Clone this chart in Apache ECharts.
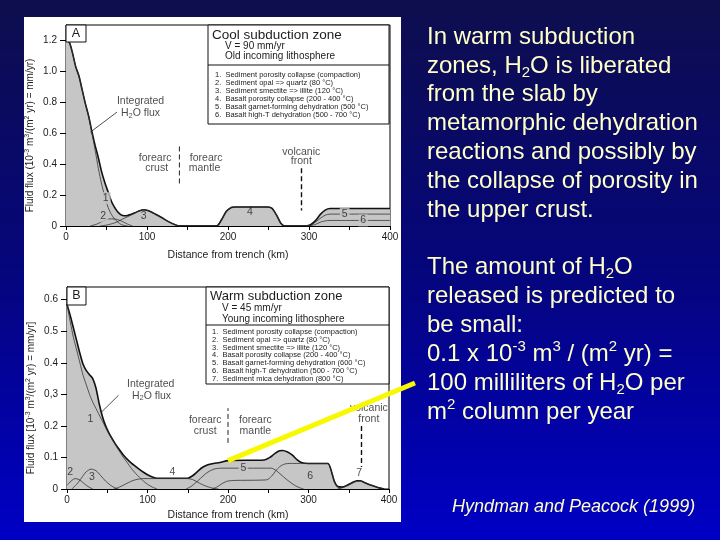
<!DOCTYPE html>
<html><head><meta charset="utf-8">
<script src="https://cdn.jsdelivr.net/npm/echarts@6/dist/echarts.min.js"></script>
<style>html,body{margin:0;padding:0;width:720px;height:540px;overflow:hidden;background:#06066e}#c{width:720px;height:540px}</style>
</head><body><div id="c"></div><script>
// ---------------- DATA ----------------
const xTickLabels = ['0', '100', '200', '300', '400'];
const aYTickLabels = ['0', '0.2', '0.4', '0.6', '0.8', '1.0', '1.2'];
const bYTickLabels = ['0', '0.1', '0.2', '0,3', '0.4', '0.5', '0.6'];

// Panel A: cool subduction zone (km, fluid flux)
const aIntegrated = [[0,1.2],[4,1.19],[8,1.12],[12,1.03],[16,0.97],[20,0.88],[24,0.79],[28,0.71],[32,0.61],[36,0.52],[40,0.44],[44,0.35],[48,0.28],[52,0.22],[56,0.16],[60,0.12],[64,0.09],[68,0.072],[72,0.066],[76,0.068],[80,0.075],[85,0.085],[90,0.097],[96,0.105],[102,0.098],[110,0.078],[118,0.055],[126,0.03],[134,0.01],[140,0],[186,0],[192,0.04],[198,0.095],[204,0.12],[208,0.123],[248,0.123],[254,0.115],[260,0.07],[265,0.02],[270,0],[296,0],[302,0.008],[308,0.035],[314,0.075],[320,0.103],[326,0.113],[400,0.113]];
const aCurve1 = [[0,1.2],[4,1.19],[8,1.12],[12,1.03],[16,0.97],[20,0.88],[24,0.79],[28,0.71],[32,0.6],[36,0.49],[40,0.37],[44,0.27],[48,0.19],[52,0.12],[56,0.075],[60,0.045],[64,0.025],[68,0.01],[72,0.003],[76,0]];
const aCurve2 = [[30,0],[38,0.012],[46,0.032],[54,0.046],[62,0.044],[70,0.028],[76,0.012],[82,0]];
const aCurve3 = [[42,0],[50,0.006],[60,0.02],[70,0.045],[80,0.07],[90,0.097],[96,0.105],[102,0.098],[110,0.078],[118,0.055],[126,0.03],[134,0.01],[140,0]];
const aCurve4 = [[186,0],[192,0.04],[198,0.095],[204,0.12],[208,0.123],[248,0.123],[254,0.115],[260,0.07],[265,0.02],[270,0]];
const aCurve5 = [[296,0],[302,0.005],[308,0.025],[314,0.05],[320,0.07],[326,0.077],[400,0.077]];
const aCurve6 = [[296,0],[302,0.003],[308,0.01],[314,0.025],[320,0.033],[326,0.036],[400,0.036]];

// Panel B: warm subduction zone
const bIntegrated = [[0,0.585],[4,0.55],[8,0.51],[12,0.47],[16,0.43],[20,0.395],[24,0.375],[28,0.362],[32,0.35],[36,0.32],[40,0.27],[44,0.23],[48,0.2],[52,0.178],[56,0.16],[60,0.143],[65,0.125],[70,0.108],[75,0.094],[80,0.082],[85,0.072],[90,0.062],[95,0.053],[100,0.045],[106,0.038],[112,0.034],[150,0.034],[156,0.042],[162,0.055],[168,0.068],[175,0.077],[182,0.081],[190,0.084],[200,0.09],[245,0.092],[252,0.1],[258,0.112],[264,0.121],[268,0.122],[274,0.117],[280,0.107],[286,0.092],[292,0.083],[300,0.081],[324,0.081],[328,0.06],[332,0.025],[336,0.008],[342,0.006],[348,0.012],[354,0.02],[360,0.026],[364,0.026],[370,0.02],[378,0.012],[386,0.005],[394,0]];
const bCurve1 = [[0,0.585],[4,0.53],[8,0.48],[12,0.44],[16,0.4],[20,0.36],[24,0.33],[28,0.3],[32,0.275],[36,0.255],[40,0.235],[44,0.215],[48,0.195],[52,0.175],[56,0.157],[60,0.14],[65,0.12],[70,0.1],[75,0.083],[80,0.065],[85,0.05],[90,0.037],[95,0.025],[100,0.015],[106,0.006],[112,0]];
const bCurve2 = [[0,0.012],[5,0.025],[10,0.033],[15,0.03],[20,0.02],[26,0.008],[32,0]];
const bCurve3 = [[6,0],[12,0.015],[18,0.035],[24,0.055],[30,0.063],[36,0.058],[42,0.042],[48,0.025],[54,0.012],[60,0.003],[64,0]];
const bCurve4 = [[58,0],[64,0.005],[70,0.012],[76,0.02],[82,0.027],[88,0.031],[95,0.033],[150,0.033],[156,0.03],[162,0.022],[168,0.014],[175,0.007],[182,0.002],[188,0]];
const bCurve5 = [[148,0],[154,0.008],[160,0.02],[166,0.034],[172,0.048],[178,0.058],[184,0.064],[192,0.066],[254,0.066],[260,0.058],[266,0.045],[272,0.032],[278,0.02],[284,0.01],[290,0.003],[294,0]];
const bCurve6 = [[180,0],[186,0.006],[192,0.016],[198,0.024],[206,0.027],[248,0.029],[254,0.04],[260,0.06],[266,0.074],[272,0.08],[280,0.081],[324,0.081],[328,0.06],[332,0.025],[336,0.008],[340,0]];
const bCurve7 = [[336,0],[342,0.004],[348,0.01],[354,0.018],[360,0.024],[364,0.025],[370,0.02],[378,0.012],[386,0.005],[394,0]];

// Curve number labels
const aCurveNames = ['1','2','3','4','5','6'];
const bCurveNames = ['1','2','3','4','5','6','7'];

// Texts
const aLegendTitle = ['Cool subduction zone', 'V = 90 mm/yr', 'Old incoming lithosphere'];
const aLegendItems = ['1.  Sediment porosity collapse (compaction)','2.  Sediment opal => quartz (80 °C)','3.  Sediment smectite => illite (120 °C)','4.  Basalt porosity collapse (200 - 400 °C)','5.  Basalt garnet-forming dehydration (500 °C)','6.  Basalt high-T dehydration (500 - 700 °C)'];
const bLegendTitle = ['Warm subduction zone', 'V = 45 mm/yr', 'Young incoming lithosphere'];
const bLegendItems = ['1.  Sediment porosity collapse (compaction)','2.  Sediment opal => quartz (80 °C)','3.  Sediment smectite => illite (120 °C)','4.  Basalt porosity collapse (200 - 400 °C)','5.  Basalt garnet-forming dehydration (600 °C)','6.  Basalt high-T dehydration (500 - 700 °C)','7.  Sediment mica dehydration (800 °C)'];
const noteWords = ['Integrated', 'H{sub|2}O flux', 'forearc', 'crust', 'forearc', 'mantle', 'volcanic', 'front'];
const para1 = ['In warm subduction','zones, H{sub|2}O is liberated','from the slab by','metamorphic dehydration','reactions and possibly by','the collapse of porosity in','the upper crust.'];
const para2 = ['The amount of H{sub|2}O','released is predicted to','be small:','0.1 x 10{sup|-3} m{sup|3} / (m{sup|2} yr) =','100 milliliters of H{sub|2}O per','m{sup|2} column per year'];
const citation = 'Hyndman and Peacock (1999)';

// ---------------- LAYOUT / STYLE ----------------
const FONT = '"Liberation Sans", Arial, Helvetica, sans-serif';
const INK = '#1c1c1c';
const FILL = '#c6c6c6';
const TXT = '#ffffc8';

// annotation anchor positions (data coords)
const aCurveLabelPos = [[49,0.18],[46,0.063],[96,0.063],[227,0.089],[344,0.078],[367,0.036]];
const bCurveLabelPos = [[29,0.22],[4,0.055],[31,0.039],[131,0.052],[219,0.066],[302,0.04],[363,0.05]];
const aNotePos = [[92,0.81],[92,0.728],[110,0.436],[112,0.373],[173,0.436],[171,0.373],[290.5,0.478],[290.5,0.42]];
const bNotePos = [[104,0.332],[105,0.294],[171.7,0.218],[171.7,0.184],[234,0.218],[234,0.184],[375,0.256],[375,0.222]];
const aDivider = [[140,0.275],[140,0.52]];
const bDivider = [[200,0.146],[200,0.256]];
const aArrow = [[290.5,0.373],[290.5,0.10]];
const bArrow = [[366,0.2],[366,0.07]];
const aLeader = [[63,0.737],[30,0.607]];
const bLeader = [[64,0.297],[43,0.244]];

const chart = echarts.init(document.getElementById('c'), null, {renderer: 'canvas'});

function xAx(g, gap) {
  return {type:'value', gridIndex:g, min:0, max:400, interval:50,
    axisLine:{onZero:false, lineStyle:{color:'#000', width:1}},
    axisTick:{show:true, length:4, lineStyle:{color:'#000'}},
    axisLabel:{margin:6, fontSize:10, color:INK, fontFamily:FONT, formatter:v => (v % 100 === 0 ? xTickLabels[v/100] : '')},
    splitLine:{show:false},
    name:'Distance from trench (km)', nameLocation:'middle', nameGap:gap,
    nameTextStyle:{fontSize:10.5, color:INK, fontFamily:FONT}};
}
function yAx(g, max, interval, labels, name) {
  const vals = labels.map((_, i) => +(i * interval).toFixed(3));
  return {type:'value', gridIndex:g, min:0, max:max, interval:interval,
    axisLine:{show:true, lineStyle:{color:'#000', width:1}},
    axisTick:{show:true, length:6, lineStyle:{color:'#000'}, customValues: vals},
    axisLabel:{margin:9, fontSize:10, color:INK, fontFamily:FONT, customValues: vals,
      formatter:v => { const i = Math.round(v / interval); return (Math.abs(v - i*interval) < 1e-6 && i < labels.length) ? labels[i] : ''; }},
    splitLine:{show:false},
    name:name, nameLocation:'middle', nameGap:29,
    nameTextStyle:{fontSize:10, color:INK, fontFamily:FONT, padding:[0,20,0,0],
      rich:{n:{fontSize:10, lineHeight:13, color:INK, fontFamily:FONT}, s:{fontSize:7, lineHeight:9, verticalAlign:'top', color:INK, fontFamily:FONT}}}};
}

function area(g, data) {
  return {type:'line', xAxisIndex:g, yAxisIndex:g, data:data, showSymbol:false, smooth:0.25, silent:true,
    lineStyle:{color:'#111', width:1.6}, areaStyle:{color:FILL, opacity:1}, z:2};
}
function comp(g, data) {
  return {type:'line', xAxisIndex:g, yAxisIndex:g, data:data, showSymbol:false, smooth:0.25, silent:true,
    lineStyle:{color:'#333', width:0.8}, z:3};
}
function plainLine(g, data, dashed, width) {
  return {type:'line', xAxisIndex:g, yAxisIndex:g, data:data, showSymbol:false, silent:true,
    lineStyle:{color:'#222', width:width, type: dashed ? [5,3] : 'solid'}, z:4};
}
function arrow(g, data) {
  return {type:'line', xAxisIndex:g, yAxisIndex:g, data:[], silent:true, z:4,
    markLine:{silent:true, symbol:['none','arrow'], symbolSize:[0,9], label:{show:false},
      lineStyle:{color:'#111', width:1.4, type:[5,3]},
      data:[[{coord:data[0]},{coord:data[1]}]]}};
}
const richSub = {sub:{fontSize:7.5, lineHeight:8, verticalAlign:'bottom', color:INK, fontFamily:FONT}};
function labels(g, names, pos, fs, bgIdx) {
  return {type:'scatter', xAxisIndex:g, yAxisIndex:g, symbolSize:1, silent:true, z:6,
    itemStyle:{color:'rgba(0,0,0,0)'},
    data: names.map((n, i) => {
      const d = {name:n, value:pos[i]};
      if (bgIdx && bgIdx.indexOf(i) >= 0) d.label = {backgroundColor:FILL, padding:[0,2]};
      return d;
    }),
    label:{show:true, position:'inside', formatter:'{b}', fontSize:fs, color:INK, fontFamily:FONT, lineHeight:12, rich:richSub}};
}

const graphics = [];
// background gradient + white panel
graphics.push({type:'rect', z:-100, shape:{x:0,y:0,width:720,height:540},
  style:{fill:new echarts.graphic.LinearGradient(0,0,0,1,[{offset:0,color:'#0e0e4e'},{offset:0.5,color:'#05057c'},{offset:1,color:'#0000c6'}])}});
graphics.push({type:'rect', z:-99, shape:{x:24,y:17,width:377,height:505}, style:{fill:'#ffffff'}});

function legendBox(x, y, w, h, divY, title, items, titleX, subX, ys, itemX, itemY0, itemStep, titleSize) {
  graphics.push({type:'rect', z:50, shape:{x:x, y:y, width:w, height:h}, style:{fill:'#fff', stroke:'#111', lineWidth:1}});
  graphics.push({type:'line', z:51, shape:{x1:x, y1:divY, x2:x+w, y2:divY}, style:{stroke:'#111', lineWidth:1}});
  graphics.push({type:'text', z:52, x:titleX, y:ys[0], style:{text:title[0], fill:INK, fontSize:titleSize, fontFamily:FONT, verticalAlign:'middle', align:'left'}});
  graphics.push({type:'text', z:52, x:subX, y:ys[1], style:{text:title[1], fill:INK, fontSize:10, fontFamily:FONT, verticalAlign:'middle', align:'left'}});
  graphics.push({type:'text', z:52, x:subX, y:ys[2], style:{text:title[2], fill:INK, fontSize:10, fontFamily:FONT, verticalAlign:'middle', align:'left'}});
  items.forEach((t, i) => graphics.push({type:'text', z:52, x:itemX, y:itemY0 + i*itemStep,
    style:{text:t, fill:INK, fontSize:7.5, fontFamily:FONT, verticalAlign:'middle', align:'left'}}));
}
legendBox(208, 25, 181, 99, 65, aLegendTitle, aLegendItems, 212, 225, [35,46.5,56.5], 215, 75, 8, 13.5);
legendBox(206, 287, 183, 97, 325, bLegendTitle, bLegendItems, 210, 222, [296,308,319], 212, 332, 7.8, 13);
// panel letter boxes
graphics.push({type:'rect', z:50, shape:{x:66,y:25,width:20,height:17}, style:{fill:'#fff', stroke:'#111', lineWidth:1}});
graphics.push({type:'text', z:52, x:76, y:34, style:{text:'A', fill:INK, fontSize:12.5, fontFamily:FONT, align:'center', verticalAlign:'middle'}});
graphics.push({type:'rect', z:50, shape:{x:67,y:287,width:19,height:18}, style:{fill:'#fff', stroke:'#111', lineWidth:1}});
graphics.push({type:'text', z:52, x:76.5, y:296, style:{text:'B', fill:INK, fontSize:12.5, fontFamily:FONT, align:'center', verticalAlign:'middle'}});

// right-hand slide text
const slideRich = {
  sub:{fontSize:15, lineHeight:14, verticalAlign:'bottom', fill:TXT, fontFamily:FONT},
  sup:{fontSize:15, lineHeight:18, verticalAlign:'top', fill:TXT, fontFamily:FONT}
};
para1.forEach((t, i) => graphics.push({type:'text', z:60, x:427, y:37 + i*28.9,
  style:{text:t, fill:TXT, fontSize:24, fontFamily:FONT, lineHeight:29, align:'left', verticalAlign:'middle', rich:slideRich}}));
para2.forEach((t, i) => graphics.push({type:'text', z:60, x:427, y:267 + i*29,
  style:{text:t, fill:TXT, fontSize:24, fontFamily:FONT, lineHeight:29, align:'left', verticalAlign:'middle', rich:slideRich}}));
graphics.push({type:'text', z:60, x:452, y:507, style:{text:citation, fill:TXT, font:'italic 18px ' + FONT, align:'left', verticalAlign:'middle'}});

const yNameA = '{n|Fluid flux (10}{s|-3}{n| m}{s|3}{n|/(m}{s|2}{n| yr) = mm/yr)}';
const yNameB = '{n|Fluid flux [10}{s|-3}{n| m}{s|3}{n|/(m}{s|2}{n| yr) = mm/yr]}';

const option = {
  animation:false,
  grid:[
    {left:66, top:25, width:324, height:201, show:true, borderColor:'#000', borderWidth:1, backgroundColor:'transparent'},
    {left:67, top:287, width:322, height:202, show:true, borderColor:'#000', borderWidth:1, backgroundColor:'transparent'}
  ],
  xAxis:[xAx(0, 24), xAx(1, 21)],
  yAxis:[yAx(0, 1.3, 0.2, aYTickLabels, yNameA), yAx(1, 0.64, 0.1, bYTickLabels, yNameB)],
  series:[
    area(0, aIntegrated), comp(0, aCurve1), comp(0, aCurve2), comp(0, aCurve3), comp(0, aCurve4), comp(0, aCurve5), comp(0, aCurve6),
    plainLine(0, aDivider, true, 1), plainLine(0, aLeader, false, 0.8), arrow(0, aArrow),
    labels(0, aCurveNames, aCurveLabelPos, 10.5, [0,1,4,5]), labels(0, noteWords, aNotePos, 10.5),
    area(1, bIntegrated), comp(1, bCurve1), comp(1, bCurve2), comp(1, bCurve3), comp(1, bCurve4), comp(1, bCurve5), comp(1, bCurve6), comp(1, bCurve7),
    plainLine(1, bDivider, true, 1), plainLine(1, bLeader, false, 0.8), arrow(1, bArrow),
    labels(1, bCurveNames, bCurveLabelPos, 10.5, [4]), labels(1, noteWords, bNotePos, 10.5)
  ],
  graphic: graphics
};
chart.setOption(option);

// yellow pointer from the slide text to the warm-zone curve at 200 km
const tip = chart.convertToPixel({gridIndex:1}, [200, 0.09]);
chart.setOption({graphic: graphics.concat([{type:'line', id:'pointer', z:80,
  shape:{x1:415, y1:383, x2:tip[0], y2:tip[1]}, style:{stroke:'#f8f800', lineWidth:5, lineCap:'butt'}}])});
</script></body></html>
